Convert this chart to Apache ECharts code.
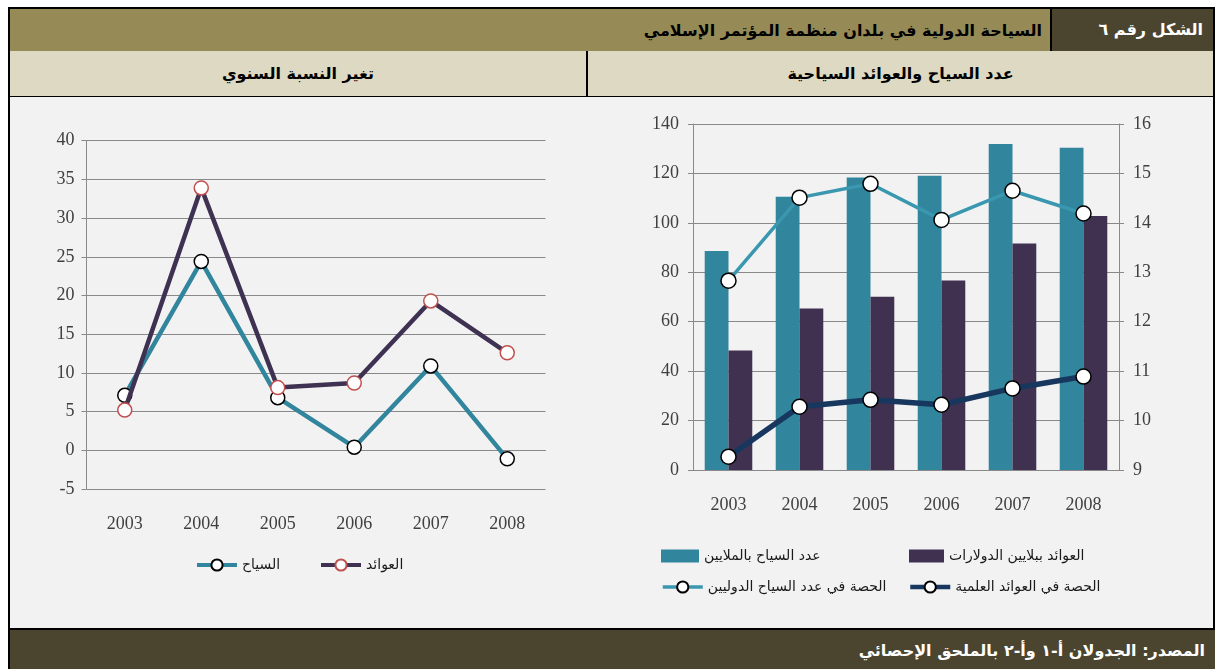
<!DOCTYPE html>
<html>
<head>
<meta charset="utf-8">
<title>السياحة الدولية</title>
<script src="https://cdn.jsdelivr.net/npm/echarts@6/dist/echarts.min.js"></script>
<style>
  body { margin:0; width:1216px; height:669px; background:#fff; position:relative; overflow:hidden;
         font-family:"DejaVu Sans", sans-serif; }
  .band { position:absolute; box-sizing:border-box; direction:rtl; font-weight:bold; white-space:nowrap; }
</style>
</head>
<body>
<!-- الإطار والعناوين -->
<div class="band" style="left:8px;top:7px;width:1207px;height:46px;background:#968B57;border:2px solid #000;border-bottom:2px solid #1a1a1a;"></div>
<div class="band" style="left:1050px;top:9px;width:163px;height:42px;background:#4B4530;border-left:2px solid #000;color:#fff;font-size:16px;line-height:42px;padding-right:10px;">الشكل رقم ٦</div>
<div class="band" style="left:600px;top:9px;width:442px;height:42px;color:#000;font-size:16px;line-height:44px;">السياحة الدولية في بلدان منظمة المؤتمر الإسلامي</div>
<div class="band" style="left:8px;top:51px;width:1207px;height:47px;background:#DDD9C3;border:2px solid #000;border-top:none;"></div>
<div class="band" style="left:586px;top:51px;width:2px;height:46px;background:#000;"></div>
<div class="band" style="left:10px;top:53px;width:576px;height:42px;text-align:center;font-size:16px;line-height:42px;">تغير النسبة السنوي</div>
<div class="band" style="left:588px;top:53px;width:625px;height:42px;text-align:center;font-size:16px;line-height:42px;">عدد السياح والعوائد السياحية</div>
<div class="band" style="left:8px;top:97px;width:1207px;height:533px;background:#F2F2F2;border-left:2px solid #000;border-right:2px solid #000;border-bottom:2px solid #000;"></div>
<div class="band" style="left:8px;top:630px;width:1207px;height:39px;background:#4B4530;border-left:2px solid #000;color:#fff;font-size:16px;line-height:42px;padding-right:10px;">المصدر: الجدولان أ-١ وأ-٢ بالملحق الإحصائي</div>

<div id="main" style="position:absolute;left:10px;top:97px;width:1204px;height:531px;"></div>
<script type="text/javascript">
    // السنوات
    var years = ['2003','2004','2005','2006','2007','2008'];
    // تغير النسبة السنوي (%)
    var tourists_change = [7.1, 24.4, 6.8, 0.4, 10.9, -1.1];
    var receipts_change = [5.2, 33.9, 8.1, 8.7, 19.3, 12.6];
    // عدد السياح بالملايين والعوائد ببلايين الدولارات
    var tourists_mn = [88.6, 110.6, 118.4, 119.1, 131.9, 130.4];
    var receipts_bn = [48.4, 65.3, 70.1, 76.7, 91.6, 102.8];
    // الحصة (%)
    var share_tourists = [12.83, 14.51, 14.79, 14.06, 14.65, 14.19];
    var share_receipts = [9.27, 10.28, 10.42, 10.32, 10.65, 10.89];

    var numFont = 'Liberation Serif';
    var grayLine = '#898989';
    var lblStyle = {color:'#404040', fontFamily:numFont, fontSize:18};
    var legText = {color:'#1a1a1a', fontFamily:'DejaVu Sans', fontSize:14};

    var myChart = echarts.init(document.getElementById('main'));
    var option = {
        animation: false,
        legend: [
            {data:['السياح'], left:180, top:456, itemWidth:40, itemHeight:14, itemGap:0, textStyle:legText, lineStyle:{width:4}},
            {data:['العوائد'], left:304, top:456, itemWidth:40, itemHeight:14, itemGap:0, textStyle:legText, lineStyle:{width:4}},
            {data:['عدد السياح بالملايين'], left:646, top:447, itemWidth:38, itemHeight:13, icon:'rect', textStyle:legText},
            {data:['العوائد ببلايين الدولارات'], left:894, top:447, itemWidth:35, itemHeight:13, icon:'rect', textStyle:legText},
            {data:['الحصة في عدد السياح الدوليين'], left:646, top:478, itemWidth:40, itemHeight:14, textStyle:legText, lineStyle:{width:3.5}},
            {data:['الحصة في العوائد العلمية'], left:893, top:478, itemWidth:40, itemHeight:14, textStyle:legText, lineStyle:{width:4.5}}
        ],
        grid: [
            {left:76.5, top:43.7, width:459, height:348.3},
            {left:683, top:27, width:426, height:346}
        ],
        xAxis: [
            {gridIndex:0, type:'category', data:years, boundaryGap:true,
             axisLine:{onZero:true, lineStyle:{color:grayLine}},
             axisTick:{length:5, lineStyle:{color:grayLine}},
             axisLabel:Object.assign({margin:26}, lblStyle)},
            {gridIndex:1, type:'category', data:years, boundaryGap:true,
             axisLine:{lineStyle:{color:grayLine}},
             axisTick:{length:5, lineStyle:{color:grayLine}},
             axisLabel:Object.assign({margin:26}, lblStyle)}
        ],
        yAxis: [
            {gridIndex:0, type:'value', min:-5, max:40, interval:5,
             axisLine:{show:true, lineStyle:{color:grayLine}},
             axisTick:{show:true, length:5, lineStyle:{color:grayLine}},
             axisLabel:Object.assign({margin:12}, lblStyle),
             splitLine:{lineStyle:{color:grayLine}}},
            {gridIndex:1, type:'value', min:0, max:140, interval:20,
             axisLine:{show:true, lineStyle:{color:grayLine}},
             axisTick:{show:true, length:5, lineStyle:{color:grayLine}},
             axisLabel:Object.assign({margin:14}, lblStyle),
             splitLine:{lineStyle:{color:grayLine}}},
            {gridIndex:1, type:'value', position:'right', min:9, max:16, interval:1,
             axisLine:{show:true, lineStyle:{color:grayLine}},
             axisTick:{show:true, length:5, lineStyle:{color:grayLine}},
             axisLabel:Object.assign({margin:14}, lblStyle),
             splitLine:{show:false}}
        ],
        series: [
            {name:'السياح', type:'line', xAxisIndex:0, yAxisIndex:0, data:tourists_change,
             symbol:'circle', symbolSize:14, z:3,
             lineStyle:{color:'#31859C', width:4.5},
             itemStyle:{color:'#fff', borderColor:'#000', borderWidth:1.5}},
            {name:'العوائد', type:'line', xAxisIndex:0, yAxisIndex:0, data:receipts_change,
             symbol:'circle', symbolSize:14, z:4,
             lineStyle:{color:'#3F3151', width:4.5},
             itemStyle:{color:'#fff', borderColor:'#C0504D', borderWidth:1.5}},
            {name:'عدد السياح بالملايين', type:'bar', xAxisIndex:1, yAxisIndex:1, data:tourists_mn,
             barGap:'0%', barCategoryGap:'33%', itemStyle:{color:'#31859C'}},
            {name:'العوائد ببلايين الدولارات', type:'bar', xAxisIndex:1, yAxisIndex:1, data:receipts_bn,
             itemStyle:{color:'#403151'}},
            {name:'الحصة في عدد السياح الدوليين', type:'line', xAxisIndex:1, yAxisIndex:2, data:share_tourists,
             symbol:'circle', symbolSize:15, z:5,
             lineStyle:{color:'#3A97B0', width:3.5},
             itemStyle:{color:'#fff', borderColor:'#000', borderWidth:1.5}},
            {name:'الحصة في العوائد العلمية', type:'line', xAxisIndex:1, yAxisIndex:2, data:share_receipts,
             symbol:'circle', symbolSize:15, z:5,
             lineStyle:{color:'#17375E', width:5.5},
             itemStyle:{color:'#fff', borderColor:'#000', borderWidth:1.5}}
        ]
    };
    myChart.setOption(option);
</script>
</body>
</html>
